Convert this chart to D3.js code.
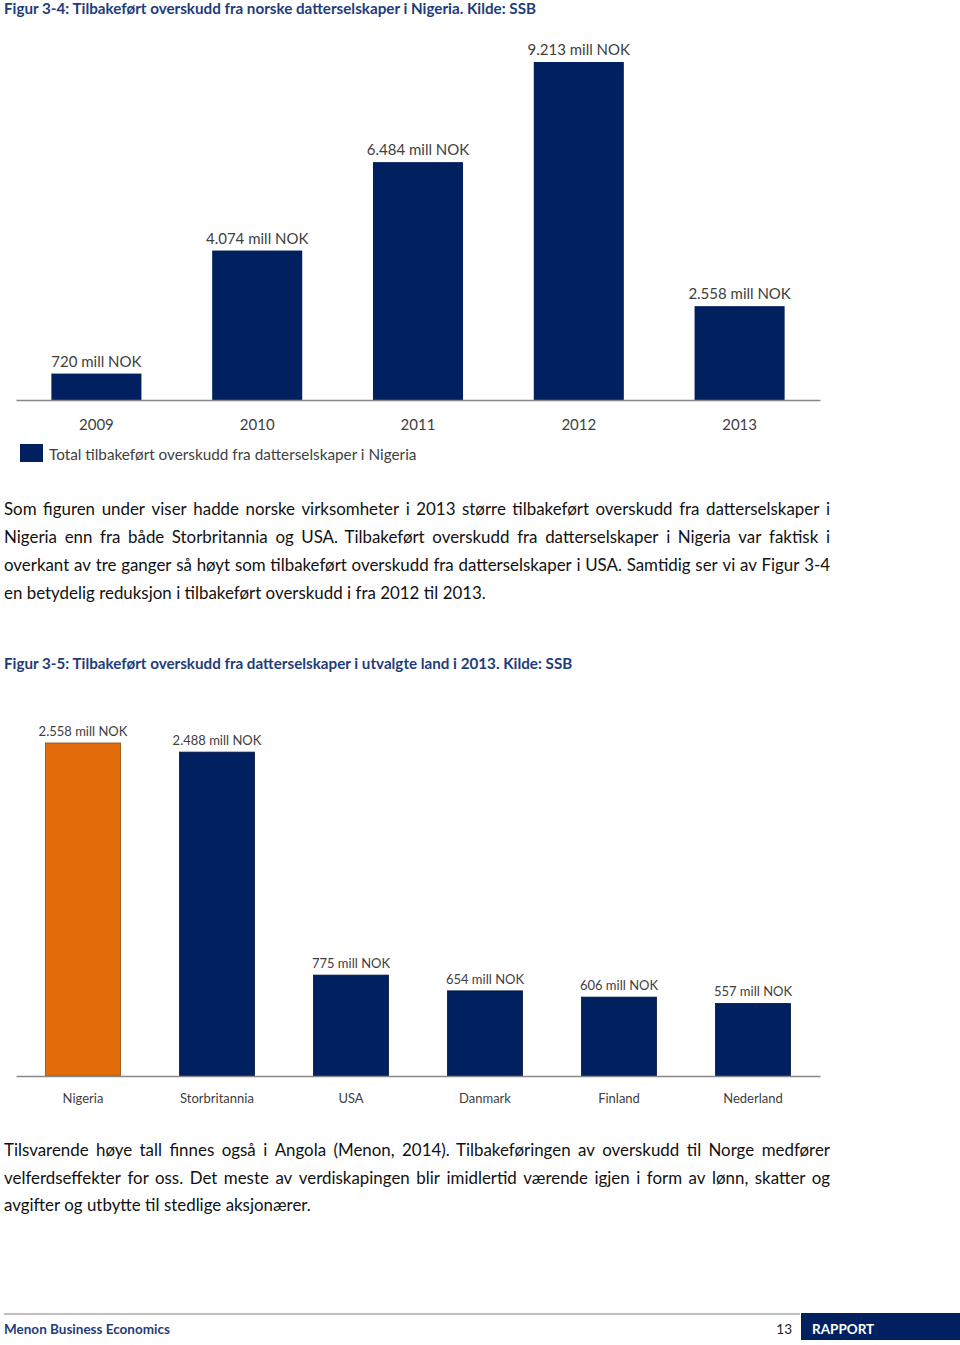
<!DOCTYPE html>
<html><head><meta charset="utf-8">
<script src="https://cdn.jsdelivr.net/npm/d3@7"></script>
<style>body{margin:0;background:#fff}svg{display:block}text{font-family:Lato,"Open Sans",sans-serif}</style>
</head><body>
<script>
// ---- data ----
const years = ["2009","2010","2011","2012","2013"];
const nigeriaValues = [720, 4074, 6484, 9213, 2558];
const nigeriaLabels = ["720 mill NOK","4.074 mill NOK","6.484 mill NOK","9.213 mill NOK","2.558 mill NOK"];
const countries = ["Nigeria","Storbritannia","USA","Danmark","Finland","Nederland"];
const countryValues = [2558, 2488, 775, 654, 606, 557];
const countryLabels = ["2.558 mill NOK","2.488 mill NOK","775 mill NOK","654 mill NOK","606 mill NOK","557 mill NOK"];
const legendText = "Total tilbakeført overskudd fra datterselskaper i Nigeria";
const title1 = "Figur 3-4: Tilbakeført overskudd fra norske datterselskaper i Nigeria. Kilde: SSB";
const title2 = "Figur 3-5: Tilbakeført overskudd fra datterselskaper i utvalgte land i 2013. Kilde: SSB";
const para1 = [
 "Som figuren under viser hadde norske virksomheter i 2013 større tilbakeført overskudd fra datterselskaper i",
 "Nigeria enn fra både Storbritannia og USA. Tilbakeført overskudd fra datterselskaper i Nigeria var faktisk i",
 "overkant av tre ganger så høyt som tilbakeført overskudd fra datterselskaper i USA. Samtidig ser vi av Figur 3-4",
 "en betydelig reduksjon i tilbakeført overskudd i fra 2012 til 2013."];
const para2 = [
 "Tilsvarende høye tall finnes også i Angola (Menon, 2014). Tilbakeføringen av overskudd til Norge medfører",
 "velferdseffekter for oss. Det meste av verdiskapingen blir imidlertid værende igjen i form av lønn, skatter og",
 "avgifter og utbytte til stedlige aksjonærer."];

const W = 960, H = 1345;
const navy = "#002060", orange = "#E36C0A", titleBlue = "#1F3D7A", labelGray = "#404040";
const svg = d3.select("body").append("svg").attr("width", W).attr("height", H);

// titles
svg.append("text").attr("x",4).attr("y",13.5).attr("font-size",15.2).attr("font-weight","bold").attr("fill",titleBlue).text(title1);
svg.append("text").attr("x",4).attr("y",668.5).attr("font-size",15.2).attr("font-weight","bold").attr("fill",titleBlue).text(title2);

// ---- chart 1 ----
const x1 = d3.scaleBand().domain(years).range([16,820]).paddingInner(0.44).paddingOuter(0.22);
const y1 = d3.scaleLinear().domain([0, 9213]).range([400, 62]);
const g1 = svg.append("g");
g1.selectAll("rect").data(nigeriaValues).join("rect")
  .attr("x",(d,i)=>x1(years[i])).attr("width",x1.bandwidth())
  .attr("y",d=>y1(d)).attr("height",d=>y1(0)-y1(d)).attr("fill",navy);
g1.selectAll("text.v").data(nigeriaValues).join("text").attr("class","v")
  .attr("x",(d,i)=>x1(years[i])+x1.bandwidth()/2).attr("y",d=>y1(d)-7)
  .attr("text-anchor","middle").attr("font-size",15).attr("fill",labelGray)
  .text((d,i)=>nigeriaLabels[i]);
const ax1 = d3.axisBottom(x1).tickSize(0).tickPadding(19);
const ax1g = g1.append("g").attr("transform","translate(0,400)").call(ax1);
ax1g.select(".domain").attr("stroke","#888").attr("stroke-width",1.5);
ax1g.selectAll("text").attr("font-size",15).attr("fill",labelGray).attr("font-family","Lato,sans-serif");
// legend
svg.append("rect").attr("x",20).attr("y",444).attr("width",23).attr("height",18).attr("fill",navy);
svg.append("text").attr("x",49).attr("y",459.5).attr("font-size",15.3).attr("fill",labelGray).text(legendText);

// ---- justified paragraphs ----
function para(lines, y0, lh) {
  const left = 4, right = 830;
  lines.forEach((line, li) => {
    const y = y0 + li*lh;
    const words = line.split(" ");
    const last = li === lines.length-1;
    const t = svg.append("text").attr("y",y).attr("font-size",16.9).attr("fill","#111");
    const spans = words.map(w => t.append("tspan").text(w));
    const widths = spans.map(s => s.node().getComputedTextLength());
    const total = d3.sum(widths);
    const gap = last ? 4.4 : (right-left-total)/(words.length-1);
    let x = left;
    spans.forEach((s,i)=>{ s.attr("x",x); x += widths[i] + gap; });
  });
}
para(para1, 515, 28);
para(para2, 1156, 27.5);

// ---- chart 2 ----
const x2 = d3.scaleBand().domain(countries).range([16,820]).paddingInner(0.44).paddingOuter(0.22);
const y2 = d3.scaleLinear().domain([0, 2558]).range([1076, 743]);
const g2 = svg.append("g");
g2.selectAll("rect").data(countryValues).join("rect")
  .attr("x",(d,i)=>x2(countries[i])).attr("width",x2.bandwidth())
  .attr("y",d=>y2(d)).attr("height",d=>y2(0)-y2(d))
  .attr("fill",(d,i)=>i===0?orange:navy)
  .attr("stroke",(d,i)=>i===0?"#8a4a10":"#001540").attr("stroke-width",0.8);
g2.selectAll("text.v").data(countryValues).join("text").attr("class","v")
  .attr("x",(d,i)=>x2(countries[i])+x2.bandwidth()/2).attr("y",d=>y2(d)-7)
  .attr("text-anchor","middle").attr("font-size",13).attr("fill",labelGray)
  .text((d,i)=>countryLabels[i]);
const ax2 = d3.axisBottom(x2).tickSize(0).tickPadding(18);
const ax2g = g2.append("g").attr("transform","translate(0,1076)").call(ax2);
ax2g.select(".domain").attr("stroke","#888").attr("stroke-width",1.5);
ax2g.selectAll("text").attr("font-size",13).attr("fill",labelGray).attr("font-family","Lato,sans-serif");

// ---- footer ----
svg.append("line").attr("x1",4).attr("x2",800).attr("y1",1314).attr("y2",1314).attr("stroke","#aaa").attr("stroke-width",1.5);
svg.append("rect").attr("x",801).attr("y",1313).attr("width",159).attr("height",27).attr("fill",navy);
svg.append("text").attr("x",4).attr("y",1334).attr("font-size",13.5).attr("font-weight","bold").attr("fill",titleBlue).text("Menon Business Economics");
svg.append("text").attr("x",792).attr("y",1334).attr("text-anchor","end").attr("font-size",13.5).attr("fill","#222").text("13");
svg.append("text").attr("x",812).attr("y",1334).attr("font-size",13.5).attr("font-weight","bold").attr("fill","#fff").text("RAPPORT");
</script>
</body></html>
